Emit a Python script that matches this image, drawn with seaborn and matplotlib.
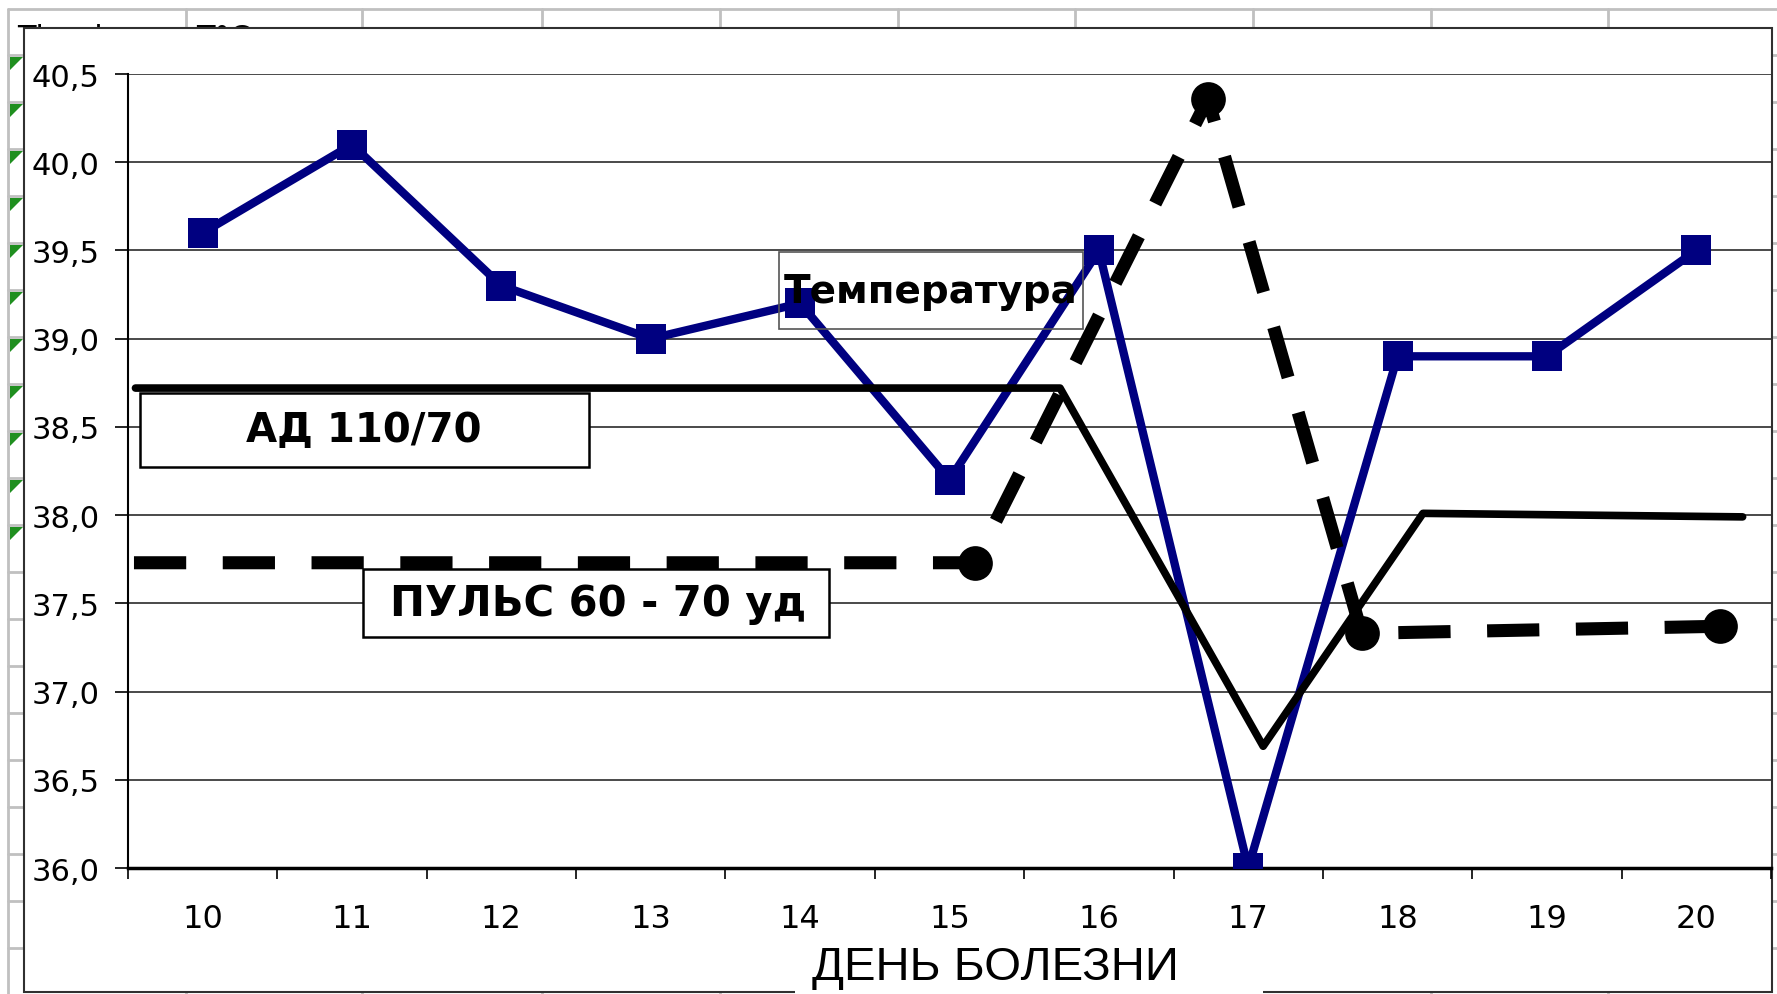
import numpy as np
import matplotlib
matplotlib.use("Agg")
import matplotlib.pyplot as plt
import matplotlib.patches as patches
import seaborn as sns

# days of illness (category axis)
days = [10, 11, 12, 13, 14, 15, 16, 17, 18, 19, 20]
temperature = [39.6, 40.1, 39.3, 39.0, 39.2, 38.2, 39.5, 36.0, 38.9, 38.9, 39.5]

# hand drawn curves over the chart (x in days)
ad_x = [9.55, 15.74, 17.10, 18.17, 20.31]
ad_y = [38.72, 38.72, 36.69, 38.01, 37.99]
pulse_x = [9.54, 15.17, 16.73, 17.76, 20.16]
pulse_y = [37.73, 37.73, 40.36, 37.33, 37.37]

y_ticks = [36.0, 36.5, 37.0, 37.5, 38.0, 38.5, 39.0, 39.5, 40.0, 40.5]
y_labels = ["36,0", "36,5", "37,0", "37,5", "38,0", "38,5", "39,0", "39,5", "40,0", "40,5"]

# spreadsheet behind the chart (pixels)
col_x = [8, 186, 362, 542, 720, 898, 1075, 1253, 1431, 1608]
row_y = [10] + [56 + 47 * k for k in range(20)]

sns.set_style("white")
plt.rcParams['font.family'] = ['DejaVu Sans']
plt.rcParams['text.color'] = 'black'
plt.rcParams['xtick.color'] = 'black'
plt.rcParams['ytick.color'] = 'black'

W, H = 1777, 995
fig = plt.figure(figsize=(W / 100, H / 100), dpi=100)

# background sheet
bg = fig.add_axes([0, 0, 1, 1])
bg.set_xlim(0, W)
bg.set_ylim(H, 0)
bg.axis('off')
for cx in col_x:
    bg.plot([cx, cx], [10, H], color='#c0c0c0', lw=2, zorder=1)
for ry in row_y:
    bg.plot([8, W], [ry, ry], color='#c0c0c0', lw=2, zorder=1)
for ry in row_y[1:12]:
    bg.add_patch(patches.Polygon([[10, ry + 2], [23, ry + 2], [10, ry + 15]],
                                 closed=True, color='#1f8f1f', lw=0, zorder=1.5))
bg.text(17, 47, "The day", fontsize=22, color='black', zorder=1.2)
bg.text(196, 47, "T°C", fontsize=22, color='black', zorder=1.2)

# chart area
bg.add_patch(patches.Rectangle((24, 29), 1748, 964, facecolor='white',
                               edgecolor='#303030', lw=1.5, zorder=2))
bg.add_patch(patches.Rectangle((795, 936), 468, 59, facecolor='white',
                               edgecolor='none', zorder=3))
bg.text(995, 968, "ДЕНЬ БОЛЕЗНИ", fontsize=34, family=['Liberation Sans', 'DejaVu Sans'],
        ha='center', va='center', zorder=4)

ax = fig.add_axes([128 / W, 1 - 869 / H, (1771 - 128) / W, (869 - 75) / H])
ax.patch.set_alpha(0)

x_idx = np.arange(len(days))
sns.lineplot(x=x_idx, y=temperature, ax=ax, color='#000080', lw=6,
             marker='s', markersize=21, markeredgewidth=0, zorder=3)
sns.lineplot(x=np.array(ad_x) - 10, y=ad_y, ax=ax, sort=False, color='black',
             lw=5.5, zorder=4)
sns.lineplot(x=np.array(pulse_x) - 10, y=pulse_y, ax=ax, sort=False, color='black',
             lw=9.4, linestyle=(0, (4, 2.8)), marker='o', markersize=25,
             markevery=[1, 2, 3, 4], markeredgewidth=0, zorder=5)

ax.set_xlim(-0.5, 10.5)
ax.set_ylim(36.0, 40.5)
ax.set_yticks(y_ticks)
ax.set_yticklabels(y_labels, fontsize=22)
ax.set_xticks(np.arange(-0.5, 11, 1))
ax.set_xticklabels([])
ax.set_xticks(x_idx, minor=True)
ax.set_xticklabels([str(d) for d in days], minor=True, fontsize=23)
ax.tick_params(axis='y', which='major', direction='out', length=9.4, width=1.2,
               pad=11, left=True, color='black')
ax.tick_params(axis='x', which='major', direction='out', length=8, width=1.2,
               bottom=True, color='black')
ax.tick_params(axis='x', which='minor', length=0, pad=25)
ax.yaxis.grid(True, color='#3c3c3c', lw=1.3)
ax.xaxis.grid(False)
ax.set_xlabel("")
ax.set_ylabel("")
for s in ['top', 'right']:
    ax.spines[s].set_visible(False)
ax.spines['left'].set_color('black')
ax.spines['left'].set_linewidth(1.5)
ax.spines['bottom'].set_color('black')
ax.spines['bottom'].set_linewidth(2.5)

# text boxes
ax.add_patch(patches.Rectangle((-0.42, 38.27), 3.006, 0.42, facecolor='white',
                               edgecolor='black', lw=1.8, zorder=6))
ax.text(1.08, 38.48, "АД 110/70", fontsize=29, fontweight='bold', ha='center',
        va='center', zorder=7)
ax.add_patch(patches.Rectangle((1.073, 37.308), 3.119, 0.386, facecolor='white',
                               edgecolor='black', lw=1.8, zorder=6))
ax.text(2.65, 37.50, "ПУЛЬС 60 - 70 уд", fontsize=30, fontweight='bold', ha='center',
        va='center', zorder=7)
ax.add_patch(patches.Rectangle((3.857, 39.054), 2.035, 0.437, facecolor='none',
                               edgecolor='#555555', lw=1.2, zorder=6))
ax.text(4.875, 39.27, "Температура", fontsize=28, fontweight='bold', ha='center',
        va='center', zorder=7)

fig.savefig("out.png", dpi=100)
